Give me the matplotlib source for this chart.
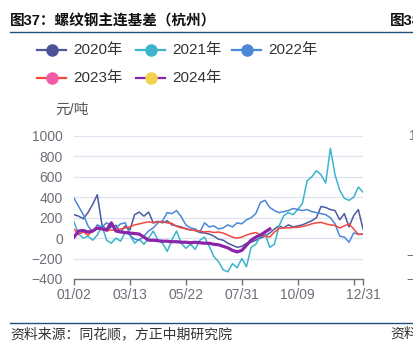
import numpy as np
import matplotlib
matplotlib.use("Agg")
import matplotlib.pyplot as plt
from matplotlib.lines import Line2D

plt.rcParams['font.family'] = ['Liberation Sans', 'Noto Sans CJK SC', 'DejaVu Sans']

# category index (trading-day slots), one sample every 4 slots
days = np.arange(0, 249, 4)
tick_pos = [0, 48, 96, 144, 192, 240, 248]
tick_labels = ['01/02', '03/13', '05/22', '07/31', '10/09', '', '12/31']

years = ['2020年', '2021年', '2022年', '2023年', '2024年']

basis_2020 = [230, 215, 190, 250, 330, 425, 130, 75, 110, 125, 60, 120, 80,
              230, 255, 215, 255, 150, 165, 150, 170, 130, 120, 110, 90,
              80, 75, 55, 50, 40, 20, -10, -20, -50, -70, -90, -80,
              -50, -40, -20, 0, 20, 50, 90, 120, 100, 130, 110, 120,
              130, 150, 170, 200, 310, 300, 280, 270, 180, 240, 110, 220, 280, 90]
basis_2021 = [160, 40, 0, 20, -20, 30, 120, -20, -50, 0, -30, 60, 30,
              -50, -10, -60, 0, 70, -20, -50, -130, -20, 70, -50, -100,
              -60, -110, -20, 10, -80, -180, -230, -310, -330, -250, -290, -200,
              -280, -90, -60, 20, 40, -90, -60, 120, 220, 250, 230, 280,
              340, 560, 600, 660, 620, 540, 880, 620, 470, 390, 370, 400, 500, 450]
basis_2022 = [390, 310, 230, 120, 60, 130, 110, 150, 120, 100, 140, 150, 30,
              -10, -20, 20, 70, 100, 150, 170, 250, 240, 270, 210, 130,
              100, 90, 60, 150, 110, 120, 90, 100, 130, 110, 150, 140,
              180, 200, 240, 350, 370, 300, 270, 250, 260, 270, 290, 280,
              270, 280, 260, 250, 240, 230, 200, 140, 20, 10, -40, 50, 40, 40]
basis_2023 = [90, 40, 60, 30, 70, 90, 100, 70, 80, 75, 90, 100, 110,
              130, 140, 150, 160, 150, 160, 160, 150, 145, 115, 100, 95,
              80, 75, 70, 60, 65, 55, 60, 50, 30, 10, 0, 10,
              30, 45, 55, 30, 20, 10, 60, 95, 100, 100, 105, 105,
              115, 125, 140, 150, 155, 140, 130, 125, 100, 120, 140, 90, 35, 40]
basis_2024 = [10, 70, 75, 60, 70, 100, 90, 80, 150, 70, 60, 55, 50,
              45, 40, 10, -20, -20, -25, -30, -30, -35, -35, -40, -40,
              -45, -40, -45, -50, -50, -60, -65, -80, -95, -120, -135, -120,
              -70, -20, 10, 30, 60, 90]

line_colors = ['#4d5a9e', '#3bb4cc', '#4a87d6', '#f5473d', '#8b24a8']
dot_colors = ['#4b5396', '#3bb4cc', '#4a87d6', '#f25ba8', '#f2d24c']
widths = [1.1, 1.1, 1.1, 1.1, 2.3]

fig = plt.figure(figsize=(4.13, 3.55), dpi=100)
W, H = 413, 355
ax = fig.add_axes([74 / W, 76 / H, 289 / W, 143 / H])

series = [basis_2020, basis_2021, basis_2022, basis_2023, basis_2024]
for vals, c, lw in zip(series, line_colors, widths):
    ax.plot(days[:len(vals)], vals, color=c, lw=lw, solid_joinstyle='round')

ax.set_xlim(0, 248)
ax.set_ylim(-400, 1000)
ax.set_yticks(range(-400, 1001, 200))
ax.set_xticks(tick_pos)
ax.set_xticklabels(tick_labels)
ax.yaxis.grid(True, color='#dfe3ef', lw=0.9)
ax.set_axisbelow(True)
for s in ['top', 'right', 'left']:
    ax.spines[s].set_visible(False)
ax.spines['bottom'].set_color('#6e7079')
ax.spines['bottom'].set_linewidth(1.0)
ax.tick_params(axis='y', length=0, labelsize=10, labelcolor='#6e7079', pad=8)
ax.tick_params(axis='x', length=4.3, width=1.0, color='#6e7079', labelsize=10,
               labelcolor='#6e7079', pad=2.5)

# legend, drawn by hand
leg_pos = [(37, 50), (136, 50), (232, 50), (37, 78), (136, 78)]
for lab, lc, dc, (px, py) in zip(years, line_colors, dot_colors, leg_pos):
    y = 1 - py / H
    fig.add_artist(Line2D([px / W, (px + 29) / W], [y, y], color=lc, lw=1.6,
                          transform=fig.transFigure))
    fig.add_artist(Line2D([(px + 14.5) / W], [y], marker='o', ms=8, color=dc,
                          transform=fig.transFigure))
    fig.text((px + 36) / W, y, lab, fontsize=11, va='center', color='#333333')

fig.text(55 / W, 1 - 110 / H, '元/吨', fontsize=10.5, va='center', color='#555555')

# title and source
fig.text(10 / W, 1 - 21 / H, '图37：螺纹钢主连基差（杭州）', fontsize=10.5,
         fontweight='bold', va='center', color='#111111')
fig.text(390 / W, 1 - 21 / H, '图38', fontsize=10.5, fontweight='bold',
         va='center', color='#111111')
fig.add_artist(Line2D([10 / W, 1], [1 - 32 / H] * 2, color='#1f4e79', lw=1.0,
                      transform=fig.transFigure))
fig.add_artist(Line2D([10 / W, 1], [1 - 323 / H] * 2, color='#1f4e79', lw=1.0,
                      transform=fig.transFigure))
fig.text(10 / W, 1 - 334 / H, '资料来源：同花顺，方正中期研究院', fontsize=10,
         style='italic', va='center', color='#333333')
fig.text(390 / W, 1 - 334 / H, '资料来源', fontsize=10, style='italic',
         va='center', color='#333333')

# edge of the neighbouring chart
fig.text(409 / W, 1 - 136 / H, '1000', fontsize=10, va='center', color='#6e7079')
fig.text(406 / W, 1 - 256 / H, '−200', fontsize=10, va='center', color='#6e7079')
fig.text(406 / W, 1 - 280 / H, '−400', fontsize=10, va='center', color='#6e7079')

fig.savefig('out.png', dpi=100)
